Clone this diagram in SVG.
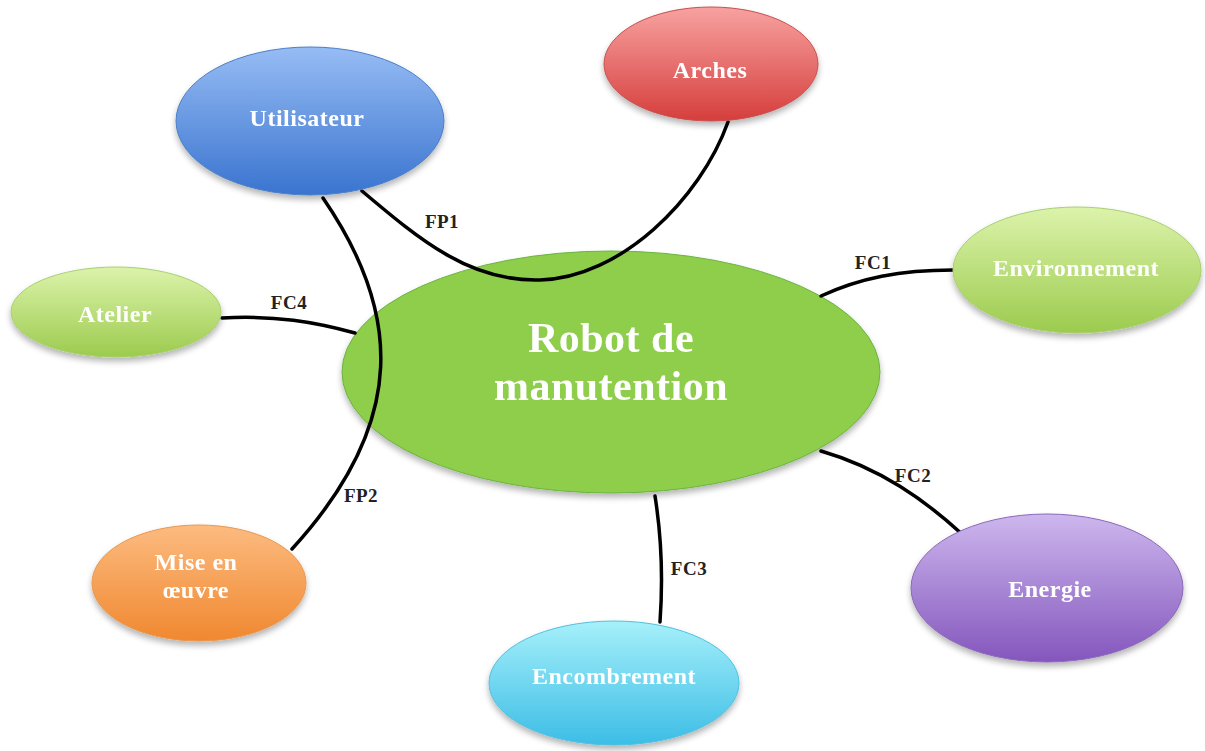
<svg xmlns="http://www.w3.org/2000/svg" width="1205" height="751" viewBox="0 0 1205 751">
<defs>
<linearGradient id="gBlue" x1="0" y1="0" x2="0" y2="1"><stop offset="0" stop-color="#96bcf4"/><stop offset="1" stop-color="#3a74cf"/></linearGradient>
<linearGradient id="gRed" x1="0" y1="0" x2="0" y2="1"><stop offset="0" stop-color="#f7a2a0"/><stop offset="1" stop-color="#d63e3c"/></linearGradient>
<linearGradient id="gGreen" x1="0" y1="0" x2="0" y2="1"><stop offset="0" stop-color="#dcf3ab"/><stop offset="1" stop-color="#9ccb4e"/></linearGradient>
<linearGradient id="gOrange" x1="0" y1="0" x2="0" y2="1"><stop offset="0" stop-color="#fcbb80"/><stop offset="1" stop-color="#f08830"/></linearGradient>
<linearGradient id="gCyan" x1="0" y1="0" x2="0" y2="1"><stop offset="0" stop-color="#a6f0fa"/><stop offset="1" stop-color="#3cbde6"/></linearGradient>
<linearGradient id="gPurple" x1="0" y1="0" x2="0" y2="1"><stop offset="0" stop-color="#cdb7ee"/><stop offset="1" stop-color="#8456bd"/></linearGradient>
<filter id="sh" x="-20%" y="-20%" width="140%" height="150%"><feGaussianBlur in="SourceAlpha" stdDeviation="3"/><feOffset dx="0" dy="4"/><feComponentTransfer><feFuncA type="linear" slope="0.3"/></feComponentTransfer><feMerge><feMergeNode/><feMergeNode in="SourceGraphic"/></feMerge></filter>
</defs>
<style>
.node{filter:url(#sh)}
.shape{stroke-width:1}
.t{font-family:"Liberation Serif",serif;font-weight:bold;fill:#ffffff;text-anchor:middle;font-size:24px;letter-spacing:0.5px}
.big{font-size:42px;letter-spacing:0.5px}
.conn path{fill:none;stroke:#000;stroke-width:3.5;stroke-linecap:round}
.lbl{font-family:"Liberation Serif",serif;font-weight:bold;font-size:19px;fill:#222;text-anchor:middle;letter-spacing:0.5px}
</style>
<rect width="1205" height="751" fill="#ffffff"/>
<g id="robot" class="node">
<ellipse class="shape" cx="611" cy="372" rx="269" ry="121" fill="#8ece4b" stroke="#6ab440"/>
<text class="t big" x="611" y="352">Robot de</text>
<text class="t big" x="611" y="400">manutention</text>
</g>
<g id="connectors" class="conn">
<path d="M362,191 C 420,240 470,282 540,280 C 620,278 700,200 728,122"/>
<path d="M323,198 C 400,310 410,420 292,549"/>
<path d="M222,318 C 275,315 315,322 355,333"/>
<path d="M821,296 C 860,278 900,270 953,270"/>
<path d="M821,451 C 880,468 925,500 963,535"/>
<path d="M655,496 C 662,540 663,580 660,622"/>
<text class="lbl" x="442" y="228">FP1</text>
<text class="lbl" x="361" y="502">FP2</text>
<text class="lbl" x="873" y="269">FC1</text>
<text class="lbl" x="913" y="482">FC2</text>
<text class="lbl" x="689" y="575">FC3</text>
<text class="lbl" x="289" y="309">FC4</text>
</g>
<g id="utilisateur" class="node">
<ellipse class="shape" cx="310" cy="121" rx="134" ry="74" fill="url(#gBlue)" stroke="#4a7fc8"/>
<text class="t" x="307" y="126">Utilisateur</text>
</g>
<g id="arches" class="node">
<ellipse class="shape" cx="711" cy="64" rx="107" ry="57" fill="url(#gRed)" stroke="#c85050"/>
<text class="t" x="710" y="78">Arches</text>
</g>
<g id="environnement" class="node">
<ellipse class="shape" cx="1077" cy="270" rx="124" ry="63" fill="url(#gGreen)" stroke="#a8d070"/>
<text class="t" x="1076" y="276">Environnement</text>
</g>
<g id="atelier" class="node">
<ellipse class="shape" cx="116" cy="312" rx="105" ry="45" fill="url(#gGreen)" stroke="#a8d070"/>
<text class="t" x="115" y="322">Atelier</text>
</g>
<g id="mise-en-oeuvre" class="node">
<ellipse class="shape" cx="199" cy="583" rx="107" ry="58" fill="url(#gOrange)" stroke="#e89850"/>
<text class="t" x="196" y="570">Mise en</text>
<text class="t" x="196" y="598">œuvre</text>
</g>
<g id="encombrement" class="node">
<ellipse class="shape" cx="614" cy="683" rx="125" ry="62" fill="url(#gCyan)" stroke="#50c0e0"/>
<text class="t" x="614" y="684">Encombrement</text>
</g>
<g id="energie" class="node">
<ellipse class="shape" cx="1047" cy="588" rx="136" ry="74" fill="url(#gPurple)" stroke="#8a68b8"/>
<text class="t" x="1050" y="597">Energie</text>
</g>
</svg>
